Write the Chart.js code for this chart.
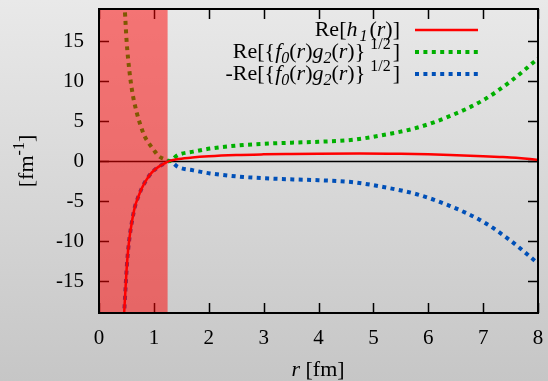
<!DOCTYPE html>
<html>
<head>
<meta charset="utf-8">
<script src="https://cdn.jsdelivr.net/npm/chart.js@4"></script>
<style>
  body { margin: 0; }
  #wrap { width: 548px; height: 381px; position: relative; }
</style>
</head>
<body>
<div id="wrap"><canvas id="myChart"></canvas></div>
<script>
// Re[h1(r)]
const hR   = [0.44, 0.46, 0.485, 0.515, 0.55, 0.6, 0.655, 0.72, 0.78, 0.87, 0.96, 1.05, 1.14, 1.22, 1.3, 1.45, 1.7, 2.0, 2.5, 3.0, 3.5, 4.0, 4.75, 5.5, 6.0, 6.4, 7.0, 7.3, 7.6, 7.8, 8.0];
const hVal = [-20.5, -18.8, -15.7, -12.4, -9.9, -7.6, -5.7, -4.4, -3.4, -2.3, -1.46, -0.9, -0.5, -0.2, 0.05, 0.25, 0.45, 0.6, 0.75, 0.83, 0.88, 0.92, 0.95, 0.9, 0.83, 0.75, 0.6, 0.51, 0.4, 0.28, 0.12];

// Re[{f0(r)g2(r)}^1/2]
const gR   = [0.46, 0.47, 0.5, 0.53, 0.6, 0.69, 0.76, 0.83, 0.9, 0.99, 1.09, 1.2, 1.28, 1.44, 1.72, 2.02, 2.63, 3.0, 3.54, 4.0, 4.63, 5.18, 5.79, 6.39, 7.0, 7.49, 8.0];
const gVal = [19.6, 18.9, 15.3, 12.8, 8.9, 6.0, 4.4, 3.1, 2.3, 1.45, 0.6, 0.2, 0.0, 0.75, 1.17, 1.55, 2.0, 2.15, 2.3, 2.4, 2.65, 3.25, 4.15, 5.6, 7.6, 9.9, 12.8];

// -Re[{f0(r)g2(r)}^1/2]
const bR   = [0.44, 0.46, 0.485, 0.515, 0.55, 0.6, 0.655, 0.72, 0.78, 0.87, 0.96, 1.05, 1.14, 1.22, 1.28, 1.44, 1.72, 2.02, 2.63, 3.0, 3.54, 4.0, 4.63, 5.18, 5.79, 6.39, 7.0, 7.49, 8.0];
const bVal = [-20.5, -18.8, -15.7, -12.4, -9.9, -7.6, -5.7, -4.4, -3.4, -2.3, -1.46, -0.9, -0.5, -0.2, 0.0, -0.75, -1.17, -1.55, -2.0, -2.15, -2.3, -2.4, -2.65, -3.25, -4.15, -5.6, -7.6, -9.9, -12.8];

const xTicks = [0, 1, 2, 3, 4, 5, 6, 7, 8];
const yTicks = [-15, -10, -5, 0, 5, 10, 15];
const rCore = 1.25;   // end of shaded region [fm]

const FONT = "Liberation Serif";
const FS = 21;   // tick labels
const LS = 22;   // legend and axis titles

Chart.defaults.font.family = FONT;

function pts(xs, ys) {
    return xs.map((x, i) => ({ x: x, y: ys[i] }));
}

function segFont(s, size) {
    const sz = (s.sub || s.sup) ? Math.round(size * 0.72) : size;
    return (s.i ? "italic " : "") + sz + "px " + FONT;
}

function richWidth(ctx, segs, size) {
    let w = 0;
    for (const s of segs) {
        ctx.font = segFont(s, size);
        w += ctx.measureText(s.t).width + (s.gap || 0);
    }
    return w;
}

function drawRich(ctx, segs, x, y, size, align) {
    let w = richWidth(ctx, segs, size);
    let cx = align === "right" ? x - w : (align === "center" ? x - w / 2 : x);
    ctx.textAlign = "left";
    ctx.textBaseline = "alphabetic";
    for (const s of segs) {
        cx += (s.gap || 0);
        ctx.font = segFont(s, size);
        let dy = s.sub ? 5 : (s.sup ? -9 : 0);
        ctx.fillText(s.t, cx, y + dy);
        cx += ctx.measureText(s.t).width;
    }
}

const legendRows = [
    { segs: [{ t: "Re[" }, { t: "h", i: 1 }, { t: "1", i: 1, sub: 1, gap: 2 }, { t: "(", gap: 2 }, { t: "r", i: 1 }, { t: ")]" }],
      color: "#ff0000", dash: [], width: 2.5 },
    { segs: [{ t: "Re[{" }, { t: "f", i: 1 }, { t: "0", i: 1, sub: 1 }, { t: "(" }, { t: "r", i: 1 }, { t: ")" },
             { t: "g", i: 1 }, { t: "2", i: 1, sub: 1 }, { t: "(" }, { t: "r", i: 1 }, { t: ")}" },
             { t: "1/2", sup: 1, gap: 5 }, { t: "]", gap: 2 }],
      color: "#00b000", dash: [4, 4.4], width: 4 },
    { segs: [{ t: "-Re[{" }, { t: "f", i: 1 }, { t: "0", i: 1, sub: 1 }, { t: "(" }, { t: "r", i: 1 }, { t: ")" },
             { t: "g", i: 1 }, { t: "2", i: 1, sub: 1 }, { t: "(" }, { t: "r", i: 1 }, { t: ")}" },
             { t: "1/2", sup: 1, gap: 5 }, { t: "]", gap: 2 }],
      color: "#0050b8", dash: [4, 4.4], width: 4 }
];

const gnuplotLook = {
    id: "gnuplotLook",
    beforeDraw(chart) {
        const ctx = chart.ctx;
        const g = ctx.createLinearGradient(0, 0, 0, chart.height);
        g.addColorStop(0, "#e9e9e9");
        g.addColorStop(1, "#c6c6c6");
        ctx.save();
        ctx.fillStyle = g;
        ctx.fillRect(0, 0, chart.width, chart.height);
        ctx.restore();
    },
    beforeDatasetsDraw(chart) {
        const ctx = chart.ctx;
        const a = chart.chartArea;
        const xs = chart.scales.x, ys = chart.scales.y;
        const tl = 10;
        ctx.save();
        ctx.strokeStyle = "#000";
        ctx.lineWidth = 1.5;
        ctx.beginPath();
        for (const v of xTicks) {
            const px = Math.round(xs.getPixelForValue(v)) + 0.5;
            ctx.moveTo(px, a.bottom); ctx.lineTo(px, a.bottom - tl);
            ctx.moveTo(px, a.top); ctx.lineTo(px, a.top + tl);
        }
        for (const v of yTicks) {
            const py = Math.round(ys.getPixelForValue(v)) + 0.5;
            ctx.moveTo(a.left, py); ctx.lineTo(a.left + tl, py);
            ctx.moveTo(a.right, py); ctx.lineTo(a.right - tl, py);
        }
        ctx.stroke();
        // zero line
        ctx.lineWidth = 1.3;
        const y0 = Math.round(ys.getPixelForValue(0)) + 0.5;
        ctx.beginPath();
        ctx.moveTo(a.left, y0); ctx.lineTo(a.right, y0);
        ctx.stroke();
        ctx.restore();
    },
    afterDatasetsDraw(chart) {
        const ctx = chart.ctx;
        const a = chart.chartArea;
        const xs = chart.scales.x;
        ctx.save();
        // shaded inner region, drawn over the curves
        const xr = xs.getPixelForValue(rCore);
        ctx.fillStyle = "rgba(255, 0, 0, 0.5)";
        ctx.fillRect(a.left, a.top, xr - a.left, a.bottom - a.top);
        // frame
        ctx.strokeStyle = "#000";
        ctx.lineWidth = 2;
        ctx.strokeRect(a.left, a.top, a.right - a.left, a.bottom - a.top);
        // legend
        ctx.fillStyle = "#000";
        legendRows.forEach((row, i) => {
            const yc = 30 + i * 22;
            drawRich(ctx, row.segs, 400, yc + 6, LS, "right");
            ctx.save();
            ctx.strokeStyle = row.color;
            ctx.lineWidth = row.width;
            ctx.setLineDash(row.dash);
            ctx.lineCap = "butt";
            ctx.beginPath();
            ctx.moveTo(415, yc); ctx.lineTo(478, yc);
            ctx.stroke();
            ctx.restore();
        });
        // axis titles
        ctx.fillStyle = "#000";
        drawRich(ctx, [{ t: "r", i: 1 }, { t: " [fm]" }], 318, 376, LS, "center");
        ctx.translate(33, 161);
        ctx.rotate(-Math.PI / 2);
        drawRich(ctx, [{ t: "[fm" }, { t: "-1", sup: 1 }, { t: "]" }], 0, 0, LS, "center");
        ctx.restore();
    }
};

function noPad(s) {
    s.paddingTop = 0; s.paddingBottom = 0;
    s.paddingLeft = 0; s.paddingRight = 0;
}

new Chart(document.getElementById("myChart"), {
    type: "line",
    data: {
        datasets: [
            { label: "Re[h1(r)]", data: pts(hR, hVal), borderColor: "#ff0000", borderWidth: 2.5 },
            { label: "Re[{f0(r)g2(r)}1/2]", data: pts(gR, gVal), borderColor: "#00b000", borderWidth: 4, borderDash: [4, 4.4] },
            { label: "-Re[{f0(r)g2(r)}1/2]", data: pts(bR, bVal), borderColor: "#0050b8", borderWidth: 4, borderDash: [4, 4.4] }
        ]
    },
    options: {
        responsive: true,
        maintainAspectRatio: false,
        animation: false,
        layout: { padding: { top: 9, right: 10, left: 0, bottom: 0 } },
        elements: {
            point: { radius: 0 },
            line: { cubicInterpolationMode: "monotone", borderCapStyle: "butt", fill: false }
        },
        plugins: {
            legend: { display: false },
            tooltip: { enabled: false }
        },
        scales: {
            x: {
                type: "linear",
                min: 0,
                max: 8,
                afterBuildTicks: (s) => { s.ticks = xTicks.map(v => ({ value: v })); },
                afterFit: (s) => { s.height = 68; noPad(s); },
                grid: { display: false, drawTicks: false },
                border: { display: false },
                ticks: { padding: 13, color: "#000", font: { family: FONT, size: FS }, maxRotation: 0 }
            },
            y: {
                type: "linear",
                min: -19,
                max: 19,
                afterBuildTicks: (s) => { s.ticks = yTicks.map(v => ({ value: v })); },
                afterFit: (s) => { s.width = 99; noPad(s); },
                grid: { display: false, drawTicks: false },
                border: { display: false },
                ticks: { padding: 15, color: "#000", font: { family: FONT, size: FS } }
            }
        }
    },
    plugins: [gnuplotLook]
});
</script>
</body>
</html>
